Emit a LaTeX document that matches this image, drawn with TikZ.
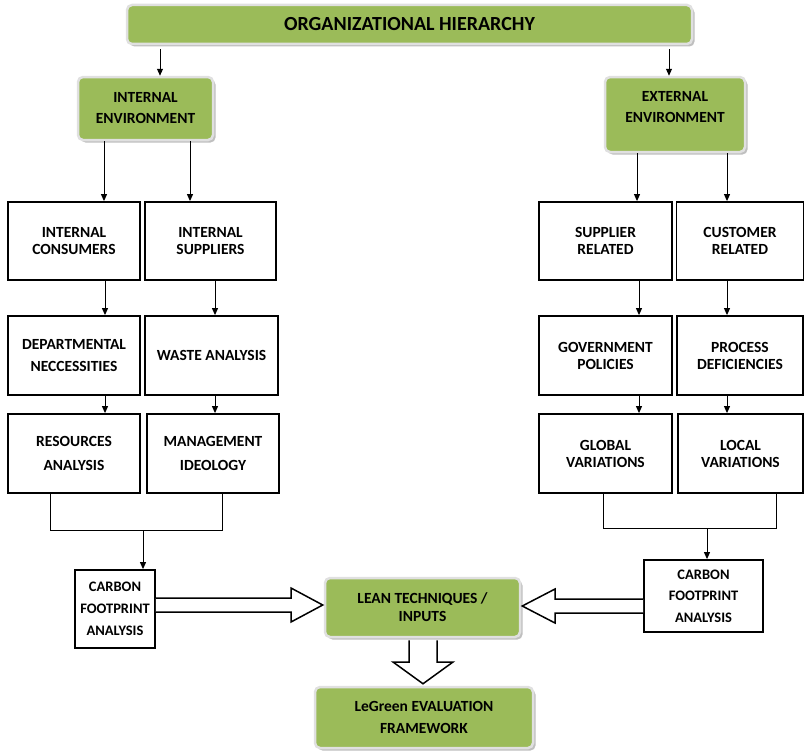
\documentclass[tikz,border=0pt]{standalone}
\usepackage{fontspec}
\setmainfont{Carlito}[BoldFont={Carlito Bold}]
\usetikzlibrary{arrows.meta,shadows,calc}
\definecolor{lgreen}{HTML}{9BBB59}
\tikzset{
  bbox/.style={draw=black, line width=1.8pt, fill=white, align=center, font=\bfseries\fontsize{15.5}{17}\selectfont, inner sep=0pt},
  gbox/.style={draw=white!88!black, line width=2.5pt, fill=lgreen, rounded corners=5pt, align=center, inner sep=0pt,
     font=\bfseries\fontsize{15.5}{21}\selectfont,
     general shadow={shadow xshift=2.5pt, shadow yshift=-2.5pt, fill=black!25}},
  gtext/.style={align=center, inner sep=0pt, font=\bfseries\fontsize{15.5}{21}\selectfont},
  arr/.style={line width=1pt, -{Triangle[length=7pt,width=6pt]}},
  ln/.style={line width=1pt},
  hollow/.style={draw=black, line width=1.5pt, fill=white, line join=miter}
}
\begin{document}
\begin{tikzpicture}[x=1pt,y=-1pt]
\useasboundingbox (0,0) rectangle (805,752);
% title
\node[gbox, minimum width=565pt, minimum height=39pt, font=\bfseries\fontsize{20}{22}\selectfont] (oh) at (409.5,24.5) {ORGANIZATIONAL HIERARCHY};
\node[gbox, minimum width=135pt, minimum height=63pt] (ie) at (145.5,108.5) {INTERNAL\\ENVIRONMENT};
\node[gbox, minimum width=140pt, minimum height=75pt] (ee) at (675,114.5) {};
\node[gtext] (eet) at ([yshift=7pt]ee.center) {EXTERNAL\\ENVIRONMENT};
% left boxes
\node[bbox, minimum width=132pt, minimum height=78pt] (ic) at (74,241) {INTERNAL\\CONSUMERS};
\node[bbox, minimum width=131pt, minimum height=78pt] (is) at (210.5,241) {INTERNAL\\SUPPLIERS};
\node[bbox, minimum width=132pt, minimum height=79pt, font=\bfseries\fontsize{15.5}{22}\selectfont] (dn) at (74,355.5) {DEPARTMENTAL\\NECCESSITIES};
\node[bbox, minimum width=133pt, minimum height=79pt] (wa) at (211.5,355.5) {WASTE ANALYSIS};
\node[bbox, minimum width=132pt, minimum height=79pt, font=\bfseries\fontsize{15.5}{24}\selectfont] (ra) at (74,453.5) {RESOURCES\\ANALYSIS};
\node[bbox, minimum width=132pt, minimum height=79pt, font=\bfseries\fontsize{15.5}{24}\selectfont] (mi) at (213,453.5) {MANAGEMENT\\IDEOLOGY};
\node[bbox, minimum width=80pt, minimum height=78pt, font=\bfseries\fontsize{14.5}{22}\selectfont] (cfl) at (115,609) {CARBON\\FOOTPRINT\\ANALYSIS};
% right boxes
\node[bbox, minimum width=133pt, minimum height=78pt] (sr) at (605.5,241) {SUPPLIER\\RELATED};
\node[bbox, minimum width=127pt, minimum height=78pt] (cr) at (740,241) {CUSTOMER\\RELATED};
\node[bbox, minimum width=133pt, minimum height=79pt] (gp) at (605.5,355.5) {GOVERNMENT\\POLICIES};
\node[bbox, minimum width=126pt, minimum height=79pt] (pd) at (740,355.5) {PROCESS\\DEFICIENCIES};
\node[bbox, minimum width=133pt, minimum height=79pt] (gv) at (605.5,453.5) {GLOBAL\\VARIATIONS};
\node[bbox, minimum width=125pt, minimum height=79pt] (lv) at (740.5,453.5) {LOCAL\\VARIATIONS};
\node[bbox, minimum width=119pt, minimum height=72pt, font=\bfseries\fontsize{14.5}{21.5}\selectfont] (cfr) at (703.5,596) {CARBON\\FOOTPRINT\\ANALYSIS};
% center
\node[gbox, minimum width=195pt, minimum height=59pt, font=\bfseries\fontsize{15.5}{18}\selectfont] (lt) at (422.5,607.5) {LEAN TECHNIQUES /\\INPUTS};
\node[gbox, minimum width=218pt, minimum height=61pt, font=\bfseries\fontsize{15.5}{22}\selectfont] (lg) at (424,717.5) {LeGreen EVALUATION\\FRAMEWORK};
% arrow x positions
\coordinate (xa) at (160,0);
\coordinate (xb) at (669,0);
\coordinate (x1) at (104,0);
\coordinate (x2) at (190,0);
\coordinate (x3) at (637,0);
\coordinate (x4) at (727,0);
\coordinate (l1) at (105,0);
\coordinate (l2) at (215,0);
\coordinate (r1) at (639,0);
\coordinate (r2) at (727,0);
\draw[arr] ([yshift=-4pt]oh.south -| xa) -- (ie.north -| xa);
\draw[arr] ([yshift=-4pt]oh.south -| xb) -- (ee.north -| xb);
\draw[arr] (ie.south -| x1) -- (ic.north -| x1);
\draw[arr] (ie.south -| x2) -- (is.north -| x2);
\draw[arr] (ee.south -| x3) -- (sr.north -| x3);
\draw[arr] (ee.south -| x4) -- (cr.north -| x4);
\draw[arr] (ic.south -| l1) -- (dn.north -| l1);
\draw[arr] (is.south -| l2) -- (wa.north -| l2);
\draw[arr] (dn.south -| l1) -- (ra.north -| l1);
\draw[arr] (wa.south -| l2) -- (mi.north -| l2);
\draw[arr] (sr.south -| r1) -- (gp.north -| r1);
\draw[arr] (cr.south -| r2) -- (pd.north -| r2);
\draw[arr] (gp.south -| r1) -- (gv.north -| r1);
\draw[arr] (pd.south -| r2) -- (lv.north -| r2);
% brackets
\coordinate (bl1) at (50,530);
\coordinate (bl2) at (222,530);
\coordinate (blm) at (143,530);
\draw[ln] (ra.south -| bl1) -- (bl1) -- (bl2) -- (mi.south -| bl2);
\draw[arr] (blm) -- (cfl.north -| blm);
\coordinate (br1) at (603,528);
\coordinate (br2) at (776,528);
\coordinate (brm) at (707,528);
\draw[ln] (gv.south -| br1) -- (br1) -- (br2) -- (lv.south -| br2);
\draw[arr] (brm) -- (cfr.north -| brm);
% hollow arrows
\draw[hollow] (cfl.east |- 0,598) -- (291,598) -- (291,588) -- ([xshift=-1pt]lt.west |- 0,605) -- (291,622) -- (291,612) -- (cfl.east |- 0,612);
\draw[hollow] (cfr.west |- 0,599) -- (555,599) -- (555,589) -- ([xshift=1pt]lt.east |- 0,606) -- (555,623) -- (555,613) -- (cfr.west |- 0,613);
\draw[hollow] ([yshift=-2pt]lt.south -| 409,0) -- (409,662) -- (393,662) -- ([yshift=2pt]lg.north -| 423,0) -- (453,662) -- (437,662) -- ([yshift=-2pt]lt.south -| 437,0);
\end{tikzpicture}
\end{document}
